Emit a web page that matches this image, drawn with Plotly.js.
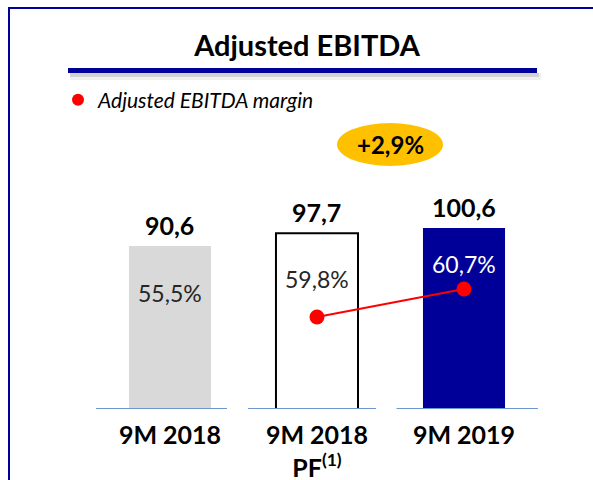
<!DOCTYPE html>
<html><head><meta charset="utf-8">
<script src="https://cdn.plot.ly/plotly-3.0.1.min.js"></script>
<style>html,body{margin:0;padding:0;background:#fff;}#chart{width:593px;height:480px;}</style>
</head><body><div id="chart"></div>
<script>
// ---- data ----
const categories = ['9M 2018', '9M 2018 PF', '9M 2019'];
const tickLabels = ['9M 2018', '9M 2018<br>PF<sup>(1)</sup>', '9M 2019'];
const ebitda = [90.6, 97.7, 100.6];
const ebitdaLabels = ['90,6', '97,7', '100,6'];
const margins = [55.5, 59.8, 60.7];
const marginLabels = ['55,5%', '59,8%', '60,7%'];
const marginLineCategories = ['9M 2018 PF', '9M 2019'];
const marginLineValues = [59.8, 60.7];
const growthLabel = '+2,9%';
const titleText = 'Adjusted EBITDA';
const legendText = 'Adjusted EBITDA margin';

// ---- styles ----
const FONT = 'Lato, "Open Sans", sans-serif';
const barColors = ['#d9d9d9', '#ffffff', '#000099'];
const barLineColors = ['rgba(0,0,0,0)', '#000000', 'rgba(0,0,0,0)'];
const barLineWidths = [0, 2, 0];
const marginLabelColors = ['#262626', '#262626', '#ffffff'];
const marginLabelShift = [-47, -46, -36];
const baseSegments = [[-0.503, 0.388], [0.531, 1.401], [1.541, 2.503]];

// plot area: x 60..560 px, y 130..409 px
const px2x = p => (p - 60) / 500;
const py2y = p => (409 - p) / 279;

const traces = [
  {
    type: 'bar', x: categories, y: ebitda, width: 0.558,
    marker: {color: barColors, line: {color: barLineColors, width: barLineWidths}},
    showlegend: false, hoverinfo: 'skip'
  },
  {
    type: 'scatter', mode: 'lines+markers', x: marginLineCategories, y: marginLineValues, yaxis: 'y2',
    line: {color: '#ff0000', width: 2}, marker: {color: '#ff0000', size: 15},
    showlegend: false, hoverinfo: 'skip'
  },
  {
    type: 'scatter', mode: 'markers', x: [null], y: [null], name: legendText,
    marker: {color: '#ff0000', size: 12}, showlegend: true
  }
];

const annotations = [];
categories.forEach((c, i) => {
  annotations.push({
    x: c, y: ebitda[i], xref: 'x', yref: 'y', text: ebitdaLabels[i], showarrow: false,
    yanchor: 'middle', yshift: 21, font: {family: FONT, size: 25, weight: 700, color: '#000'}
  });
  annotations.push({
    x: c, y: ebitda[i], xref: 'x', yref: 'y', text: marginLabels[i], showarrow: false,
    yanchor: 'middle', yshift: marginLabelShift[i], font: {family: FONT, size: 23, color: marginLabelColors[i]}
  });
});
annotations.push({
  x: px2x(390), y: py2y(144.5), xref: 'paper', yref: 'paper', text: growthLabel, showarrow: false,
  xanchor: 'center', yanchor: 'middle', font: {family: FONT, size: 24, weight: 700, color: '#000'}
});

const shapes = [
  // outer frame (top + left)
  {type: 'line', xref: 'paper', yref: 'paper', x0: px2x(8), x1: px2x(600), y0: py2y(8), y1: py2y(8), line: {color: '#0000a0', width: 2}},
  {type: 'line', xref: 'paper', yref: 'paper', x0: px2x(9), x1: px2x(9), y0: py2y(7), y1: py2y(490), line: {color: '#0000a0', width: 2}},
  // title underline shadow
  {type: 'rect', xref: 'paper', yref: 'paper', x0: px2x(70), x1: px2x(541), y0: py2y(73), y1: py2y(80), line: {width: 0}, fillcolor: 'rgba(0,0,0,0.06)'},
  {type: 'rect', xref: 'paper', yref: 'paper', x0: px2x(70), x1: px2x(539), y0: py2y(73), y1: py2y(77), line: {width: 0}, fillcolor: 'rgba(0,0,0,0.12)'},
  // title underline
  {type: 'rect', xref: 'paper', yref: 'paper', x0: px2x(68), x1: px2x(537), y0: py2y(68), y1: py2y(73), line: {width: 0}, fillcolor: '#000099'},
  // growth badge
  {type: 'circle', xref: 'paper', yref: 'paper', x0: px2x(337), x1: px2x(443), y0: py2y(123), y1: py2y(166), line: {width: 0}, fillcolor: '#ffc000'}
];
baseSegments.forEach(s => shapes.push({
  type: 'line', xref: 'x', yref: 'y', x0: s[0], x1: s[1], y0: 0, y1: 0, line: {color: '#6f97cf', width: 2}
}));

const layout = {
  width: 593, height: 480,
  margin: {l: 60, r: 33, t: 130, b: 71, pad: 0},
  paper_bgcolor: '#ffffff', plot_bgcolor: 'rgba(0,0,0,0)',
  font: {family: FONT, color: '#000'},
  title: {text: titleText, x: 307 / 593, xanchor: 'center', y: 1 - 46 / 480, yanchor: 'middle',
          font: {family: FONT, size: 29, weight: 700, color: '#000'}},
  showlegend: true,
  legend: {x: px2x(58), y: py2y(100), xanchor: 'left', yanchor: 'middle', bgcolor: 'rgba(0,0,0,0)',
           font: {family: FONT, size: 21, style: 'italic', color: '#000'}},
  xaxis: {type: 'category', categoryorder: 'array', categoryarray: categories,
          tickvals: categories, ticktext: tickLabels, range: [-0.748, 2.653],
          showgrid: false, zeroline: false, showline: false, ticks: '', ticklabelstandoff: 9,
          tickfont: {family: FONT, size: 25, weight: 700, color: '#000'}},
  yaxis: {range: [0, 155], visible: false, showgrid: false, zeroline: false},
  yaxis2: {range: [56.84, 65.81], overlaying: 'y', visible: false, showgrid: false, zeroline: false},
  bargap: 0,
  shapes: shapes,
  annotations: annotations
};

Plotly.newPlot('chart', traces, layout, {staticPlot: true, displayModeBar: false});
</script>
</body></html>
